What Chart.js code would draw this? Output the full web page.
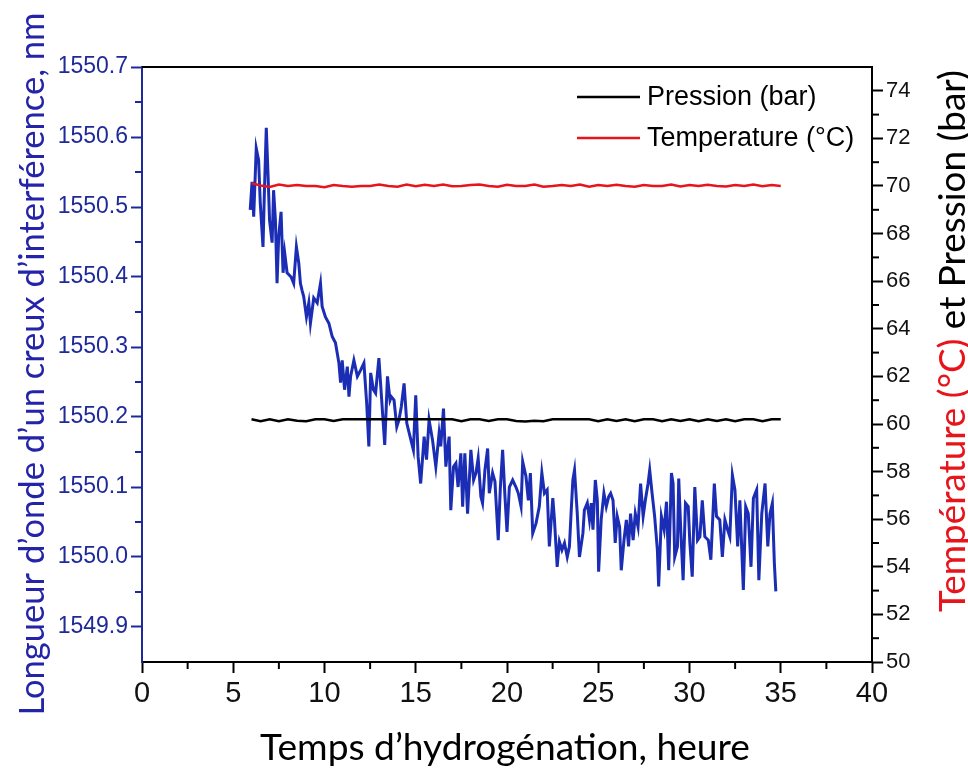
<!DOCTYPE html>
<html>
<head>
<meta charset="utf-8">
<script src="https://cdn.jsdelivr.net/npm/chart.js@4.4.1/dist/chart.umd.min.js"></script>
<style>
html,body{margin:0;padding:0;background:#fff;}
#wrap{width:968px;height:769px;position:relative;}
</style>
</head>
<body>
<div id="wrap"><canvas id="c" width="968" height="769"></canvas></div>
<script>
// ---------- DATA ----------
const blueHours = [5.93,6.03,6.12,6.26,6.39,6.48,6.63,6.70,6.81,6.91,6.99,7.13,7.21,7.31,7.40,7.49,7.62,7.73,7.82,7.95,
8.17,8.31,8.46,8.59,8.68,8.77,8.86,9.01,9.14,9.23,9.41,9.60,9.78,9.87,10.05,10.24,10.42,10.60,10.79,10.88,
10.97,11.10,11.25,11.34,11.43,11.61,11.80,11.98,12.16,12.31,12.43,12.53,12.68,12.80,12.98,13.17,13.30,13.45,13.59,13.66,
13.81,13.96,14.08,14.21,14.36,14.51,14.69,14.87,15.00,15.13,15.27,15.46,15.59,15.73,15.92,16.10,16.28,16.37,16.52,16.65,
16.74,16.83,16.92,17.07,17.20,17.32,17.47,17.57,17.69,17.84,18.02,18.17,18.30,18.42,18.57,18.66,18.79,18.94,19.03,19.21,
19.34,19.52,19.63,19.76,19.89,20.00,20.13,20.31,20.49,20.62,20.77,20.86,21.04,21.17,21.28,21.41,21.59,21.77,21.91,22.05,
22.20,22.32,22.51,22.60,22.75,22.87,23.01,23.15,23.30,23.42,23.52,23.61,23.70,23.85,23.97,24.16,24.24,24.40,24.52,24.62,
24.71,24.84,24.95,25.02,25.16,25.31,25.44,25.57,25.68,25.81,25.93,26.04,26.17,26.26,26.41,26.54,26.66,26.77,26.91,27.03,
27.18,27.32,27.46,27.58,27.73,27.82,27.95,28.09,28.24,28.31,28.46,28.61,28.74,28.86,29.01,29.10,29.19,29.34,29.41,29.52,
29.65,29.78,29.93,30.02,30.15,30.29,30.44,30.57,30.70,30.84,31.03,31.17,31.36,31.48,31.66,31.80,31.94,32.09,32.21,32.35,
32.49,32.64,32.76,32.95,33.08,33.22,33.37,33.50,33.68,33.80,33.96,34.14,34.29,34.41,34.54,34.65,34.73];
const wavelength = [1550.496,1550.536,1550.486,1550.584,1550.567,1550.506,1550.443,1550.515,1550.613,1550.543,1550.481,1550.449,1550.524,1550.481,1550.391,1550.458,1550.493,1550.406,1550.434,1550.406,
1550.400,1550.391,1550.443,1550.420,1550.391,1550.381,1550.372,1550.343,1550.363,1550.334,1550.370,1550.363,1550.391,1550.358,1550.343,1550.334,1550.315,1550.306,1550.277,1550.249,
1550.281,1550.239,1550.272,1550.229,1550.258,1550.281,1550.258,1550.267,1550.277,1550.220,1550.158,1550.263,1550.239,1550.234,1550.284,1550.210,1550.160,1550.258,1550.224,1550.229,
1550.224,1550.186,1550.196,1550.215,1550.248,1550.191,1550.172,1550.153,1550.231,1550.143,1550.105,1550.172,1550.139,1550.196,1550.167,1550.129,1550.177,1550.158,1550.212,1550.129,
1550.153,1550.172,1550.067,1550.129,1550.134,1550.100,1550.148,1550.072,1550.148,1550.062,1550.153,1550.110,1550.120,1550.141,1550.086,1550.077,1550.124,1550.155,1550.091,1550.120,
1550.108,1550.024,1550.096,1550.153,1550.086,1550.036,1550.100,1550.110,1550.100,1550.091,1550.072,1550.136,1550.115,1550.081,1550.120,1550.034,1550.048,1550.072,1550.120,1550.091,
1550.096,1550.015,1550.084,1550.053,1549.986,1550.022,1550.010,1550.020,1550.000,1550.015,1550.067,1550.110,1550.124,1550.062,1550.000,1550.034,1550.067,1550.077,1550.053,1550.077,
1550.039,1550.110,1550.081,1549.979,1550.053,1550.091,1550.072,1550.086,1550.091,1550.081,1550.020,1550.058,1550.043,1549.981,1550.024,1550.053,1550.015,1550.062,1550.024,1550.062,
1550.043,1550.105,1550.058,1550.081,1550.105,1550.124,1550.091,1550.058,1550.010,1549.958,1550.058,1550.039,1550.079,1549.981,1550.120,1550.105,1550.000,1550.015,1550.112,1550.039,
1549.967,1550.077,1550.072,1550.020,1549.972,1550.100,1550.024,1550.029,1550.081,1550.029,1550.024,1549.996,1550.105,1550.058,1550.053,1550.000,1550.053,1550.039,1550.029,1550.117,
1550.096,1550.015,1550.081,1549.953,1550.072,1550.062,1549.986,1550.084,1550.096,1549.967,1550.062,1550.105,1550.015,1550.062,1550.077,1549.991,1549.951];

const sensorHours = [6.0,6.5,7.0,7.5,8.0,8.5,9.0,9.5,10.0,10.5,11.0,11.5,12.0,12.5,13.0,13.5,14.0,14.5,15.0,15.5,
16.0,16.5,17.0,17.5,18.0,18.5,19.0,19.5,20.0,20.5,21.0,21.5,22.0,22.5,23.0,23.5,24.0,24.5,25.0,25.5,
26.0,26.5,27.0,27.5,28.0,28.5,29.0,29.5,30.0,30.5,31.0,31.5,32.0,32.5,33.0,33.5,34.0,34.5,35.0];
const pressure = [60.2,60.12,60.2,60.12,60.2,60.14,60.12,60.2,60.2,60.13,60.2,60.2,60.2,60.2,60.2,60.2,60.2,60.2,60.2,60.2,
60.2,60.2,60.2,60.12,60.2,60.2,60.13,60.2,60.2,60.13,60.11,60.14,60.12,60.2,60.2,60.2,60.2,60.2,60.12,60.2,
60.13,60.2,60.12,60.2,60.2,60.12,60.2,60.13,60.2,60.12,60.2,60.13,60.2,60.12,60.2,60.2,60.12,60.2,60.2];
const temperature = [70.12,70.02,69.96,70.06,70.0,70.04,70.0,70.0,69.95,70.04,70.0,69.97,70.0,70.0,70.06,70.0,69.97,70.06,69.99,70.05,
70.0,70.06,69.99,70.0,70.04,70.06,70.0,69.97,70.05,70.0,70.0,70.06,69.97,70.0,70.04,70.0,70.06,69.97,70.04,70.0,
70.05,70.0,69.97,70.04,70.0,70.0,70.06,69.98,70.04,70.0,70.05,70.0,69.98,70.04,70.0,70.06,69.99,70.04,70.0];

const xTicks = [0,5,10,15,20,25,30,35,40];
const xMinor = [2.5,7.5,12.5,17.5,22.5,27.5,32.5,37.5];
const leftTicks = [1549.9,1550.0,1550.1,1550.2,1550.3,1550.4,1550.5,1550.6,1550.7];
const leftMinor = [1549.95,1550.05,1550.15,1550.25,1550.35,1550.45,1550.55,1550.65];
const rightTicks = [50,52,54,56,58,60,62,64,66,68,70,72,74];
const rightMinor = [51,53,55,57,59,61,63,65,67,69,71,73];

const labels = {
  pressure: 'Pression (bar)',
  temperature: 'Temperature (°C)',
  xTitle: 'Temps d’hydrogénation, heure',
  leftTitle: 'Longueur d’onde d’un creux d’interférence, nm',
  rightTitleRed: 'Température (°C)',
  rightTitleBlack: ' et Pression (bar)'
};

// ---------- STYLE ----------
const BLUE_LINE = '#1a2db4';
const BLUE_AXIS = '#1f2a9a';
const BLUE_TITLE = '#2424a8';
const RED = '#e8141c';

const pts = (xs, ys) => xs.map((x, i) => ({x, y: ys[i]}));

const decor = {
  id: 'decor',
  afterDraw(chart) {
    const ctx = chart.ctx;
    const {left, right, top, bottom} = chart.chartArea;
    const xs = chart.scales.x, yl = chart.scales.yL, yr = chart.scales.yR;
    ctx.save();
    // top frame
    ctx.strokeStyle = '#000'; ctx.lineWidth = 2;
    ctx.beginPath(); ctx.moveTo(left, top); ctx.lineTo(right + 1, top); ctx.stroke();
    // minor ticks
    ctx.lineWidth = 2;
    ctx.strokeStyle = '#000';
    xMinor.forEach(v => { const p = xs.getPixelForValue(v); ctx.beginPath(); ctx.moveTo(p, bottom); ctx.lineTo(p, bottom + 7); ctx.stroke(); });
    rightMinor.forEach(v => { const p = yr.getPixelForValue(v); ctx.beginPath(); ctx.moveTo(right, p); ctx.lineTo(right + 7, p); ctx.stroke(); });
    ctx.strokeStyle = BLUE_AXIS;
    leftMinor.forEach(v => { const p = yl.getPixelForValue(v); ctx.beginPath(); ctx.moveTo(left, p); ctx.lineTo(left - 7, p); ctx.stroke(); });

    // legend
    const items = chart.data.datasets.filter(d => d.showInLegend);
    ctx.font = '27px "Liberation Sans", Arial, sans-serif';
    ctx.textBaseline = 'middle'; ctx.textAlign = 'left';
    items.forEach((d, i) => {
      const y = 97 + i * 41;
      ctx.strokeStyle = d.borderColor; ctx.lineWidth = 2.5;
      ctx.beginPath(); ctx.moveTo(577, y); ctx.lineTo(640, y); ctx.stroke();
      ctx.fillStyle = '#000';
      ctx.fillText(d.label, 647, y + 1);
    });

    // titles
    const fitFont = (text, target, family) => {
      ctx.font = '40px ' + family;
      const w = ctx.measureText(text).width;
      return 40 * target / w;
    };
    // x title
    let fs = fitFont(labels.xTitle, 490, 'Lato, sans-serif');
    ctx.font = fs + 'px Lato, sans-serif';
    ctx.fillStyle = '#000'; ctx.textAlign = 'center'; ctx.textBaseline = 'middle';
    ctx.fillText(labels.xTitle, 505, 748);
    // left title
    fs = fitFont(labels.leftTitle, 703, 'Lato, sans-serif');
    ctx.save();
    ctx.translate(33, 364); ctx.rotate(-Math.PI / 2);
    ctx.font = fs + 'px Lato, sans-serif';
    ctx.fillStyle = BLUE_TITLE; ctx.textAlign = 'center';
    ctx.fillText(labels.leftTitle, 0, 0);
    ctx.restore();
    // right title
    const full = labels.rightTitleRed + labels.rightTitleBlack;
    fs = fitFont(full, 542, 'Lato, sans-serif');
    ctx.save();
    ctx.translate(953, 612); ctx.rotate(-Math.PI / 2);
    ctx.font = fs + 'px Lato, sans-serif';
    ctx.textAlign = 'left'; ctx.textBaseline = 'middle';
    ctx.fillStyle = RED;
    ctx.fillText(labels.rightTitleRed, 0, 0);
    const wr = ctx.measureText(labels.rightTitleRed).width;
    ctx.fillStyle = '#000';
    ctx.fillText(labels.rightTitleBlack, wr, 0);
    ctx.restore();
    ctx.restore();
  }
};

new Chart(document.getElementById('c'), {
  type: 'scatter',
  data: {
    datasets: [
      { label: labels.pressure, data: pts(sensorHours, pressure), yAxisID: 'yR', showLine: true,
        borderColor: '#000', borderWidth: 2.5, pointRadius: 0, order: 1, showInLegend: true, tension: 0 },
      { label: labels.temperature, data: pts(sensorHours, temperature), yAxisID: 'yR', showLine: true,
        borderColor: RED, borderWidth: 2.5, pointRadius: 0, order: 0, showInLegend: true, tension: 0 },
      { label: 'Longueur d’onde', data: pts(blueHours, wavelength), yAxisID: 'yL', showLine: true,
        borderColor: BLUE_LINE, borderWidth: 3, pointRadius: 0, order: 2, showInLegend: false, tension: 0 }
    ]
  },
  options: {
    responsive: false,
    animation: false,
    events: [],
    layout: { padding: { top: 67, left: 0, right: 0, bottom: 0 } },
    plugins: { legend: { display: false }, tooltip: { enabled: false } },
    scales: {
      x: {
        type: 'linear', position: 'bottom', min: 0, max: 40,
        afterBuildTicks: s => { s.ticks = xTicks.map(v => ({value: v})); },
        afterFit: s => { s.height = 107; },
        grid: { drawOnChartArea: false, drawTicks: true, tickLength: 11, tickColor: '#000', tickWidth: 2 },
        border: { display: true, color: '#000', width: 2 },
        ticks: { color: '#111', padding: 4, maxRotation: 0,
          font: { family: '"Liberation Sans Narrow", "Liberation Sans", Arial, sans-serif', size: 29 },
          callback: v => String(v) }
      },
      yL: {
        type: 'linear', position: 'left', min: 1549.85, max: 1550.7,
        afterBuildTicks: s => { s.ticks = leftTicks.map(v => ({value: v})); },
        afterFit: s => { s.width = 142; },
        grid: { drawOnChartArea: false, drawTicks: true, tickLength: 11, tickColor: BLUE_AXIS, tickWidth: 2 },
        border: { display: true, color: BLUE_AXIS, width: 2 },
        ticks: { color: BLUE_AXIS, padding: 3,
          font: { family: '"Liberation Sans", Arial, sans-serif', size: 23 },
          callback: v => Number(v).toFixed(1) }
      },
      yR: {
        type: 'linear', position: 'right', min: 50, max: 75,
        afterBuildTicks: s => { s.ticks = rightTicks.map(v => ({value: v})); },
        afterFit: s => { s.width = 96; },
        grid: { drawOnChartArea: false, drawTicks: true, tickLength: 11, tickColor: '#000', tickWidth: 2 },
        border: { display: true, color: '#000', width: 2 },
        ticks: { color: '#111', padding: 3,
          font: { family: '"Liberation Sans", Arial, sans-serif', size: 22 },
          callback: v => String(v) }
      }
    }
  },
  plugins: [decor]
});
</script>
</body>
</html>
